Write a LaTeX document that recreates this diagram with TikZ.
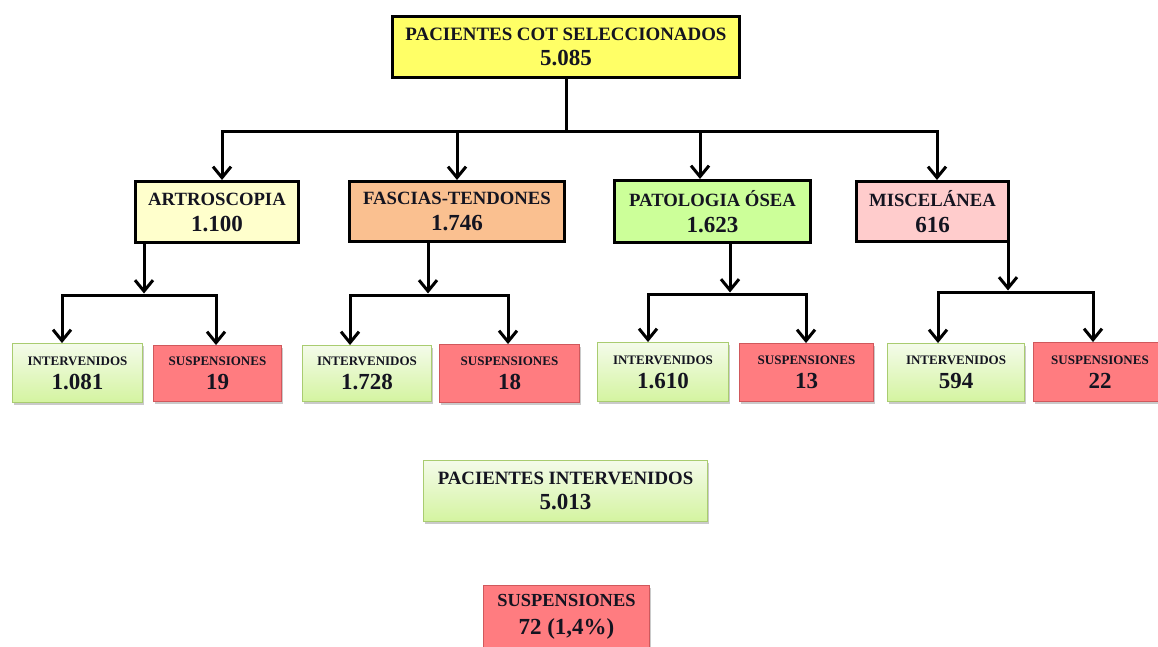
\documentclass[tikz,border=0pt]{standalone}
\usepackage{fontspec}
\setmainfont{Liberation Serif}
\usetikzlibrary{arrows.meta,shadows}

\definecolor{topfill}{HTML}{FFFF66}
\definecolor{artfill}{HTML}{FFFFCC}
\definecolor{fasfill}{HTML}{FAC090}
\definecolor{patfill}{HTML}{CCFF99}
\definecolor{misfill}{HTML}{FFCCCC}
\definecolor{oktop}{HTML}{F4FBEA}
\definecolor{okbot}{HTML}{D4F4A0}
\definecolor{okline}{HTML}{A9CC70}
\definecolor{susfill}{HTML}{FF7C80}
\definecolor{susline}{HTML}{D0585C}
\definecolor{ink}{HTML}{141420}

\tikzset{
  wire/.style={line width=3pt, black, line cap=rect},
  arrow/.style={wire, -{Straight Barb[length=11pt,width=18pt,line width=3pt]}},
  lines/.style={font={\bfseries\fontsize{18}{#1}\selectfont}},
  hub/.style={draw=black, line width=3pt, align=center, inner sep=0pt, text=ink},
  leaf/.style={draw, line width=0.9pt, align=center, inner sep=0pt, text=ink,
    drop shadow={shadow xshift=1.5pt, shadow yshift=-2.5pt, opacity=0.35, fill=black!60}},
  okbox/.style={leaf, draw=okline, top color=oktop, bottom color=okbot},
  susbox/.style={leaf, draw=susline, fill=susfill},
}
\newcommand\lab[2]{\fontsize{#1}{\baselineskip}\selectfont #2}

\begin{document}
\begin{tikzpicture}[x=1pt,y=-1pt]
\useasboundingbox (0,0) rectangle (1158,646);

% root
\node[hub, lines=25, fill=topfill, minimum width=347pt, minimum height=61pt] (top) at (566,47)
  {\lab{18.9}{PACIENTES COT SELECCIONADOS}\\\lab{23}{5.085}};

% categories
\node[hub, lines=26, fill=artfill, minimum width=163pt, minimum height=61pt] (art) at (217,212)
  {\lab{18.7}{ARTROSCOPIA}\\\lab{23}{1.100}};
\node[hub, lines=26, fill=fasfill, minimum width=215pt, minimum height=60pt] (fas) at (457,211.5)
  {\lab{18.7}{FASCIAS-TENDONES}\\\lab{23}{1.746}};
\node[hub, lines=26, fill=patfill, minimum width=196pt, minimum height=62pt] (pat) at (712.5,211.5)
  {\lab{18.7}{PATOLOGIA ÓSEA}\\\lab{23}{1.623}};
\node[hub, lines=26, fill=misfill, minimum width=152pt, minimum height=60pt] (mis) at (932.5,211.5)
  {\lab{18.7}{MISCELÁNEA}\\\lab{23}{616}};

% outcomes per category
\node[okbox, lines=24, minimum width=130pt, minimum height=59pt] (ok1) at (77.5,373)
  {\lab{13}{INTERVENIDOS}\\\lab{23}{1.081}};
\node[susbox, lines=24, minimum width=128pt, minimum height=56pt] (su1) at (217.5,373.5)
  {\lab{13}{SUSPENSIONES}\\\lab{23}{19}};
\node[okbox, lines=24, minimum width=129pt, minimum height=56pt] (ok2) at (367,373.5)
  {\lab{13}{INTERVENIDOS}\\\lab{23}{1.728}};
\node[susbox, lines=24, minimum width=140pt, minimum height=58pt] (su2) at (509.5,373.5)
  {\lab{13}{SUSPENSIONES}\\\lab{23}{18}};
\node[okbox, lines=24, minimum width=131pt, minimum height=59pt] (ok3) at (663,372)
  {\lab{13}{INTERVENIDOS}\\\lab{23}{1.610}};
\node[susbox, lines=24, minimum width=134pt, minimum height=58pt] (su3) at (806.5,372.5)
  {\lab{13}{SUSPENSIONES}\\\lab{23}{13}};
\node[okbox, lines=24, minimum width=137pt, minimum height=58pt] (ok4) at (956,372.5)
  {\lab{13}{INTERVENIDOS}\\\lab{23}{594}};
\node[susbox, lines=24, minimum width=134pt, minimum height=59pt] (su4) at (1100,372)
  {\lab{13}{SUSPENSIONES}\\\lab{23}{22}};

% totals
\node[okbox, lines=25, minimum width=284pt, minimum height=61pt] (tot) at (565.5,491)
  {\lab{18.8}{PACIENTES INTERVENIDOS}\\\lab{23}{5.013}};
\node[susbox, lines=28, minimum width=166pt, minimum height=63pt] (sus) at (566.5,617)
  {\lab{18.4}{SUSPENSIONES}\\\lab{23}{72 (1,4\%)}};

% root to categories
\coordinate (bus) at (566,131);
\coordinate (b1) at (222,131);
\coordinate (b2) at (457,131);
\coordinate (b3) at (700,131);
\coordinate (b4) at (937,131);
\draw[wire] (top.south) -- (bus);
\draw[wire] (b1) -- (b4);
\draw[arrow] (b1) -- (b1 |- art.north);
\draw[arrow] (b2) -- (b2 |- fas.north);
\draw[arrow] (b3) -- (b3 |- pat.north);
\draw[arrow] (b4) -- (b4 |- mis.north);

% categories to outcomes
\coordinate (s1) at (144,295);  \coordinate (l1) at (62,295);   \coordinate (r1) at (216,295);
\coordinate (s2) at (428,295);  \coordinate (l2) at (350,295);  \coordinate (r2) at (508,295);
\coordinate (s3) at (730,294);  \coordinate (l3) at (648,294);  \coordinate (r3) at (806,294);
\coordinate (s4) at (1008,292); \coordinate (l4) at (938,292);  \coordinate (r4) at (1093,292);

\draw[arrow] (art.south -| s1) -- ([yshift=1.5pt]s1);
\draw[wire] (l1) -- (r1);
\draw[arrow] (l1) -- (l1 |- ok1.north);
\draw[arrow] (r1) -- (r1 |- su1.north);

\draw[arrow] (fas.south -| s2) -- ([yshift=1.5pt]s2);
\draw[wire] (l2) -- (r2);
\draw[arrow] (l2) -- (l2 |- ok2.north);
\draw[arrow] (r2) -- (r2 |- su2.north);

\draw[arrow] (pat.south -| s3) -- ([yshift=1.5pt]s3);
\draw[wire] (l3) -- (r3);
\draw[arrow] (l3) -- (l3 |- ok3.north);
\draw[arrow] (r3) -- (r3 |- su3.north);

\draw[arrow] (mis.south -| s4) -- ([yshift=1.5pt]s4);
\draw[wire] (l4) -- (r4);
\draw[arrow] (l4) -- (l4 |- ok4.north);
\draw[arrow] (r4) -- (r4 |- su4.north);
\end{tikzpicture}
\end{document}
